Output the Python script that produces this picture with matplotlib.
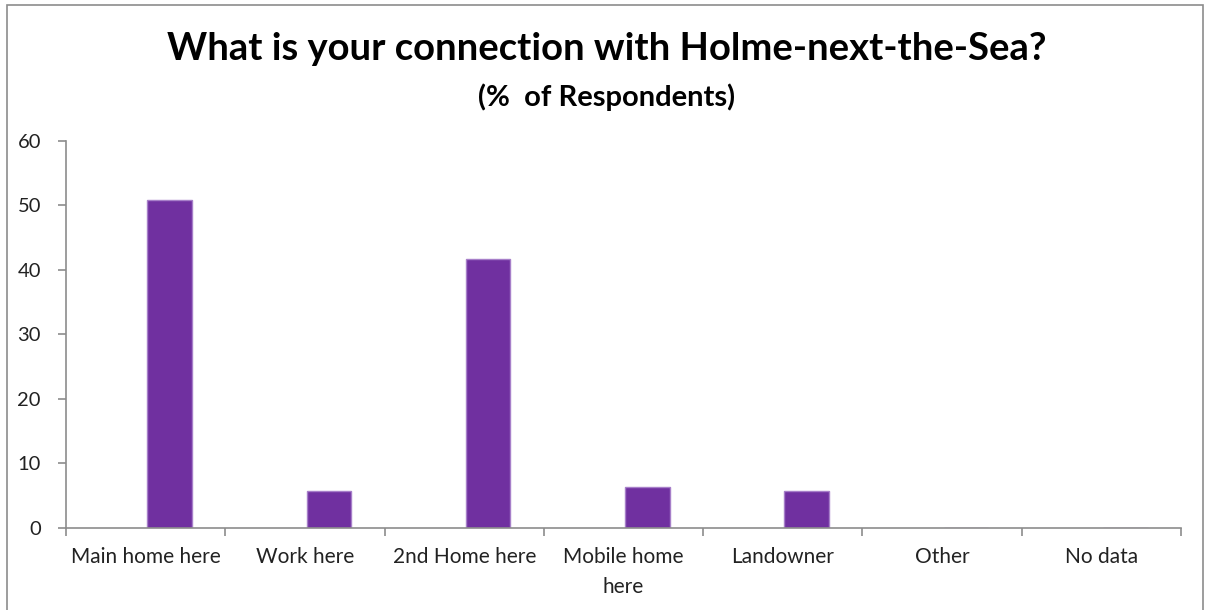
import matplotlib
matplotlib.use("Agg")
import matplotlib.pyplot as plt
from matplotlib.patches import Rectangle

categories = ["Main home here", "Work here", "2nd Home here", "Mobile home\nhere",
              "Landowner", "Other", "No data"]
values = [50.8, 5.7, 41.7, 6.3, 5.7, 0, 0]
yticks = [0, 10, 20, 30, 40, 50, 60]

plt.rcParams['font.family'] = ['Lato', 'DejaVu Sans']

W, H = 1213, 610
fig = plt.figure(figsize=(W / 100, H / 100), dpi=100)
fig.patch.set_facecolor("white")

# outer chart frame
fig.patches.append(Rectangle((7 / W, -0.05), (1203 - 7) / W, 1.05 - 5 / H,
                             transform=fig.transFigure, fill=False,
                             edgecolor="#8c8c8c", linewidth=1.2))

ax = fig.add_axes([66 / W, 1 - 527.7 / H, (1181 - 66) / W, (527.7 - 141) / H])
x = list(range(len(categories)))
bar_w = 0.28
# second series of a clustered pair (first series empty) -> shifted right
ax.bar([i + 0.15 for i in x], values, width=bar_w, color="#7030A0",
       edgecolor="#a77fc9", linewidth=1)

ax.set_xlim(-0.5, len(categories) - 0.5)
ax.set_ylim(0, 60)
ax.set_yticks(yticks)
ax.set_yticklabels([str(v) for v in yticks], fontsize=14.5, color="#222222")
ax.set_xticks(x)
ax.set_xticklabels(categories, fontsize=15, color="#222222", linespacing=1.6)
ax.tick_params(axis="x", length=0, pad=14)
ax.set_xticks([i - 0.5 for i in range(len(categories) + 1)], minor=True)
ax.tick_params(axis="x", which="minor", length=6, color="#8c8c8c", width=1.2, direction="out")
ax.tick_params(axis="y", length=6, color="#8c8c8c", width=1.2, direction="out", pad=12)

for s in ["top", "right"]:
    ax.spines[s].set_visible(False)
for s in ["left", "bottom"]:
    ax.spines[s].set_color("#8c8c8c")
    ax.spines[s].set_linewidth(1.2)

fig.text(0.5, 1 - 49 / H, "What is your connection with Holme-next-the-Sea?",
         ha="center", va="center", fontsize=27.5, fontweight="bold", color="black")
fig.text(0.5, 1 - 97 / H, "(%  of Respondents)", ha="center", va="center",
         fontsize=21, fontweight="bold", color="black")

fig.savefig("out.png", dpi=100)
